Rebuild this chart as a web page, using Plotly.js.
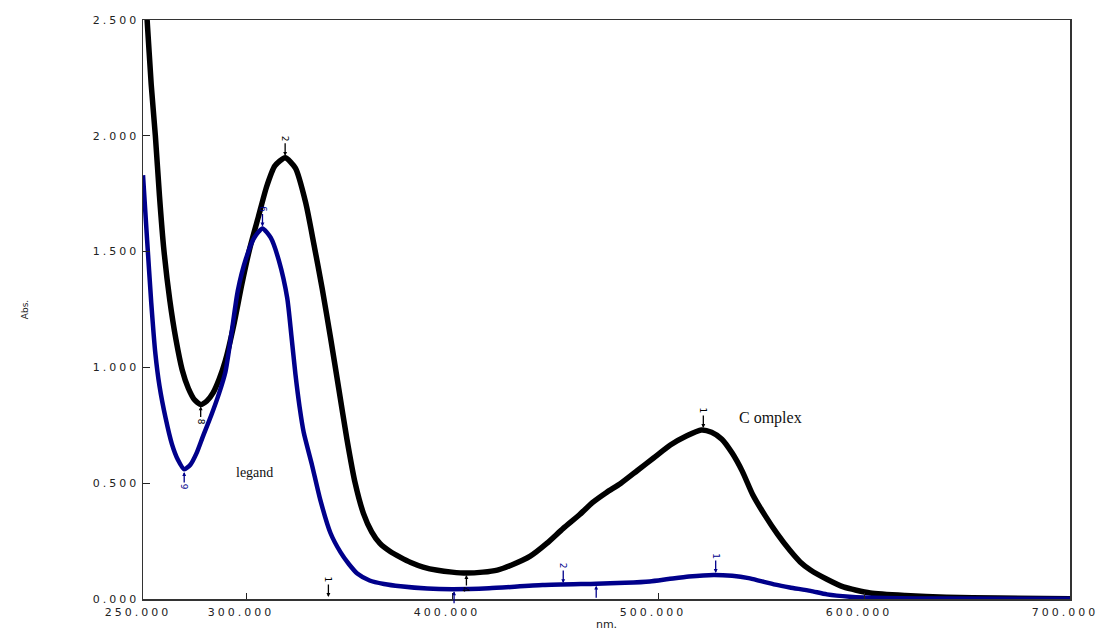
<!DOCTYPE html>
<html>
<head>
<meta charset="utf-8">
<script src="https://cdn.plot.ly/plotly-3.0.1.min.js"></script>
<style>
  html, body { margin: 0; padding: 0; background: #fff; }
  #chart { width: 1102px; height: 631px; }
  .xtick text, .ytick text { letter-spacing: 3px; }
</style>
</head>
<body>
<div id="chart"></div>
<script>
// Wavelengths (nm) and absorbance for the complex (black) spectrum
const complexNm = [250,252,254,256,258,260,263,266,269,272,275,278,281,284,287,290,294,298,302,306,310,314,319,324,329,333,337,341,345,349,353,357,361,365,370,375,380,386,393,400,407,415,422,429,438,446,454,462,468,475,482,490,498,506,514,521,526,531,536,541,546,552,558,564,569,574,582,590,603,620,640,665,700];
const complexAbs = [2.75,2.5,2.22,2.0,1.74,1.52,1.29,1.12,0.99,0.91,0.86,0.84,0.855,0.89,0.95,1.03,1.18,1.36,1.52,1.65,1.78,1.87,1.905,1.86,1.71,1.53,1.34,1.13,0.91,0.69,0.50,0.37,0.29,0.24,0.205,0.18,0.158,0.138,0.124,0.116,0.112,0.116,0.125,0.147,0.185,0.24,0.305,0.365,0.415,0.46,0.50,0.555,0.61,0.665,0.705,0.73,0.72,0.69,0.63,0.55,0.45,0.36,0.28,0.21,0.16,0.125,0.085,0.052,0.026,0.015,0.008,0.004,0.001];

// Ligand (blue) spectrum
const ligandNm = [250,252,254,256,258,261,264,267,270,273,276,279,283,287,290,293,296,300,304,308,312,316,320,322,324,326,328,332,336,341,346,350,354,360,367,375,388,400,418,444,470,484,496,505,515,527,536,544,550,557,564,574,582,593,610,640,700];
const ligandAbs = [1.83,1.55,1.28,1.06,0.92,0.78,0.67,0.60,0.56,0.58,0.63,0.70,0.79,0.89,0.98,1.15,1.33,1.47,1.56,1.60,1.56,1.46,1.30,1.14,0.97,0.83,0.72,0.58,0.43,0.285,0.20,0.15,0.11,0.08,0.065,0.055,0.045,0.042,0.046,0.06,0.066,0.07,0.076,0.086,0.097,0.104,0.10,0.09,0.077,0.062,0.05,0.035,0.02,0.01,0.004,0.002,0.001];

// Axis ticks
const xTickVals = [250,300,400,500,600,700];
const xTickText = ["250.000","300.000","400.000","500.000","600.000","700.000"];
const yTickVals = [0,0.5,1,1.5,2,2.5];
const yTickText = ["0.000","0.500","1.000","1.500","2.000","2.500"];

// Peak-pick markers
const peakNm =    [319,   278,  407,   522,  340,   308,  270,  454,   528,  401,  470];
const peakAbs =   [1.905, 0.84, 0.112, 0.73, 0.0,   1.60, 0.557,0.06,  0.104,0.042,0.066];
const peakLabel = ["2",   "8",  "4",   "1",  "1",   "6",  "9",  "2",   "1",  " ",  " "];
const peakSeries =["c",   "c",  "c",   "c",  "c",   "l",  "l",  "l",   "l",  "l",  "l"];
const peakDir =   ["up",  "down","down","up", "up",  "up", "down","up",  "up", "down","down"];

const black = '#000000';
const blue = '#00008b';

const traces = [
  { x: complexNm, y: complexAbs, type: 'scatter', mode: 'lines',
    line: { color: black, width: 5.5, shape: 'spline', smoothing: 0.6 }, hoverinfo: 'skip' },
  { x: ligandNm, y: ligandAbs, type: 'scatter', mode: 'lines',
    line: { color: blue, width: 4.5, shape: 'spline', smoothing: 0.6 }, hoverinfo: 'skip' }
];

const annotations = peakNm.map((v, i) => {
  const col = peakSeries[i] === 'c' ? black : blue;
  const up = peakDir[i] === 'up';
  return {
    x: v, y: peakAbs[i], xref: 'x', yref: 'y',
    text: peakLabel[i], textangle: 90,
    font: { family: 'DejaVu Sans', size: 9, color: col },
    showarrow: true, arrowhead: 2, arrowsize: 0.6, arrowwidth: 1.3, arrowcolor: col,
    ax: 0, ay: up ? -19 : 17, standoff: 2
  };
});

annotations.push({
  x: 304, y: 0.548, xref: 'x', yref: 'y', text: 'legand', showarrow: false,
  font: { family: 'Liberation Serif', size: 14, color: '#111' }
});
annotations.push({
  x: 554.5, y: 0.78, xref: 'x', yref: 'y', text: 'C omplex', showarrow: false,
  font: { family: 'Liberation Serif', size: 16, color: '#111' }
});

const tickFont = { family: 'DejaVu Sans', size: 11, color: '#222' };

const layout = {
  width: 1102, height: 631,
  margin: { l: 143, r: 32, t: 20, b: 32, pad: 0 },
  paper_bgcolor: '#fff', plot_bgcolor: '#fff',
  showlegend: false,
  xaxis: {
    range: [250, 700], tickmode: 'array', tickvals: xTickVals, ticktext: xTickText,
    ticks: 'inside', ticklen: 6, tickcolor: '#222', tickwidth: 1,
    showline: true, linecolor: '#333', linewidth: 1.5, mirror: true,
    showgrid: false, zeroline: false, tickfont: tickFont, automargin: false,
    ticklabeloverflow: 'allow', ticklabelstandoff: 2, ticklabelshift: -5,
    title: { text: 'nm.', font: { family: 'DejaVu Sans', size: 11, color: '#222' }, standoff: 3 }
  },
  yaxis: {
    range: [0, 2.5], tickmode: 'array', tickvals: yTickVals, ticktext: yTickText,
    ticks: 'inside', ticklen: 7, tickcolor: '#222', tickwidth: 1,
    showline: true, linecolor: '#333', linewidth: 1.5, mirror: true,
    showgrid: false, zeroline: false, tickfont: tickFont, automargin: false,
    ticklabeloverflow: 'allow',
    title: { text: 'Abs.', font: { family: 'DejaVu Sans', size: 9, color: '#222' }, standoff: 62 }
  },
  annotations: annotations
};

Plotly.newPlot('chart', traces, layout, { staticPlot: true, displayModeBar: false });
</script>
</body>
</html>
